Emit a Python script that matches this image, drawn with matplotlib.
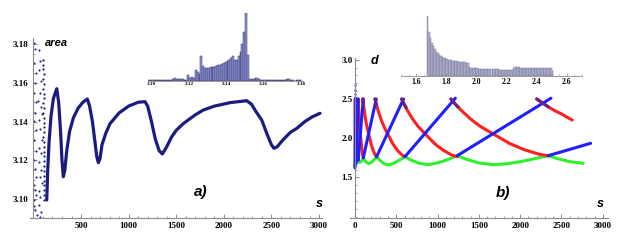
import numpy as np
import matplotlib
matplotlib.use("Agg")
import matplotlib.pyplot as plt
from matplotlib.ticker import MultipleLocator, FixedLocator

W, H = 631, 249

# ---------------- panel a) data ----------------
area_s = [140, 150, 165, 185, 210, 245, 265, 285, 300, 314, 330, 350, 380, 420, 470, 520,
          566, 590, 620, 645, 665, 682, 700, 720, 760, 805, 900, 1000, 1100, 1172, 1200,
          1240, 1280, 1320, 1354, 1400, 1450, 1500, 1575, 1700, 1785, 1900, 2065, 2240,
          2290, 2340, 2398, 2450, 2500, 2527, 2560, 2620, 2700, 2766, 2850, 2930, 3010]
area_v = [3.0995, 3.115, 3.130, 3.143, 3.152, 3.157, 3.150, 3.135, 3.120, 3.1115, 3.115,
          3.125, 3.135, 3.142, 3.147, 3.150, 3.1517, 3.148, 3.140, 3.130, 3.122, 3.1188,
          3.121, 3.128, 3.134, 3.139, 3.1445, 3.148, 3.150, 3.1503, 3.148, 3.140, 3.131,
          3.125, 3.1233, 3.127, 3.132, 3.1355, 3.139, 3.1435, 3.146, 3.148, 3.1498, 3.1508,
          3.149, 3.145, 3.1408, 3.134, 3.128, 3.1262, 3.127, 3.1305, 3.1345, 3.1365, 3.140,
          3.1425, 3.1443]

early_s = [4, 20, 8, 28, 12, 3, 24, 16, 6, 30, 10, 22, 2, 18, 26, 5, 14, 32, 1, 9, 20, 35,
           60, 72, 55, 82, 65, 52, 78, 88, 58, 70, 85, 62, 75, 54, 80, 67, 86, 57, 73, 63, 83, 70]
early_v = [3.1806, 3.1775, 3.1703, 3.165, 3.160, 3.155, 3.150, 3.1445, 3.1405, 3.1357,
           3.1305, 3.125, 3.1202, 3.1155, 3.1114, 3.1075, 3.1047, 3.102, 3.0995, 3.0965,
           3.0943, 3.092,
           3.177, 3.1715, 3.1667, 3.161, 3.1548, 3.1505, 3.1475, 3.144, 3.1408, 3.136,
           3.1305, 3.1265, 3.1238, 3.119, 3.115, 3.1115, 3.1083, 3.104, 3.101, 3.097,
           3.0933, 3.0905]
dense_s = [110, 109, 108, 110, 107, 109, 106, 108, 110, 107, 109, 106, 108, 105, 107, 109,
           106, 108, 105, 107, 104, 106, 108, 105, 107, 104, 106, 105, 103, 105]
dense_v = [3.0995, 3.102, 3.1045, 3.107, 3.1095, 3.112, 3.1145, 3.117, 3.1195, 3.122,
           3.1245, 3.127, 3.1295, 3.132, 3.1345, 3.137, 3.1395, 3.142, 3.1445, 3.147,
           3.1495, 3.152, 3.1545, 3.157, 3.1595, 3.162, 3.1645, 3.167, 3.1695, 3.172]

# histogram of area (inset a)
hist_a_start = 3.098
hist_a_width = 0.001
hist_a_counts = [1, 1, 2, 1, 1, 1, 1, 1, 1, 1, 1, 1, 2, 4, 6, 5, 3, 3, 3, 2, 2, 17, 8, 10, 8,
                 30, 24, 18, 72, 42, 38, 36, 38, 39, 40, 41, 43, 45, 47, 50, 52, 55, 58, 62,
                 66, 72, 62, 61, 72, 85, 110, 145, 200, 75, 5, 4, 4, 6, 7, 3, 2, 2, 2, 2, 2,
                 2, 2, 2, 2, 2, 2, 2, 2, 2, 3, 3, 1, 1, 0, 1, 1, 1]
hist_a_ticks = [3.10, 3.12, 3.14, 3.16, 3.18]

# ---------------- panel b) data ----------------
blue_segments = [
    ([0, 6], [1.62, 2.5]),
    ([6, 15], [1.66, 2.5]),
    ([15, 40], [1.70, 2.5]),
    ([40, 100], [1.72, 2.5]),
    ([101, 258], [1.75, 2.5]),
    ([262, 588], [1.764, 2.5]),
    ([605, 1215], [1.764, 2.51]),
    ([1238, 2372], [1.777, 2.51]),
    ([2340, 2853], [1.777, 1.935]),
]
red_segments = [
    ([2, 4, 6, 9], [2.5, 2.1, 1.8, 1.66]),
    ([6, 8, 10, 12, 15], [2.5, 2.25, 2.0, 1.85, 1.70]),
    ([15, 18, 22, 27, 33, 40], [2.5, 2.3, 2.1, 1.93, 1.80, 1.72]),
    ([38, 44, 51, 57, 66, 76, 85, 93, 101], [2.5, 2.36, 2.246, 2.15, 2.04, 1.935, 1.85, 1.79, 1.75]),
    ([95, 103, 112, 128, 145, 170, 195, 220, 245, 262],
     [2.5, 2.426, 2.360, 2.242, 2.147, 2.036, 1.926, 1.845, 1.786, 1.764]),
    ([242, 260, 278, 315, 351, 405, 460, 514, 569, 605],
     [2.5, 2.426, 2.360, 2.242, 2.147, 2.036, 1.926, 1.845, 1.786, 1.764]),
    ([565, 599, 632, 700, 767, 868, 969, 1070, 1171, 1238],
     [2.5, 2.426, 2.360, 2.242, 2.147, 2.036, 1.926, 1.845, 1.786, 1.764]),
    ([1162, 1221, 1280, 1398, 1515, 1692, 1869, 2046, 2222, 2340],
     [2.5, 2.427, 2.362, 2.246, 2.152, 2.043, 1.934, 1.855, 1.797, 1.775]),
    ([2200, 2270, 2340, 2420, 2500, 2570, 2631],
     [2.5, 2.45, 2.40, 2.35, 2.31, 2.265, 2.232]),
]
purple_segments = [
    ([95, 103], [2.5, 2.43]),
    ([242, 260], [2.5, 2.426]),
    ([565, 599, 620], [2.5, 2.426, 2.39]),
    ([1162, 1221, 1250], [2.5, 2.427, 2.395]),
    ([2200, 2270, 2340], [2.5, 2.45, 2.40]),
]
green_s = [0, 10, 20, 30, 40, 55, 75, 101, 130, 170, 210, 262, 300, 350, 403, 460, 530, 605,
           680, 780, 888, 1000, 1120, 1238, 1350, 1500, 1675, 1850, 2050, 2200, 2340, 2450,
           2600, 2764]
green_d = [1.64, 1.70, 1.68, 1.70, 1.72, 1.69, 1.70, 1.745, 1.70, 1.675, 1.70, 1.764, 1.72,
           1.675, 1.658, 1.675, 1.715, 1.764, 1.72, 1.68, 1.662, 1.685, 1.725, 1.777, 1.73,
           1.685, 1.662, 1.675, 1.71, 1.745, 1.777, 1.74, 1.70, 1.68]
purple_dots_s = [2, 3, 2, 3, 2, 3, 2, 3, 2, 3, 2, 3, 2]
purple_dots_d = [2.50, 2.45, 2.40, 2.35, 2.30, 2.25, 2.20, 2.15, 2.10, 2.05, 2.00, 1.95, 1.90]
blue_dots_s = [2, 3, 2, 3, 2]
blue_dots_d = [2.68, 2.62, 2.57, 2.53, 2.30]

hist_d_start = 1.67
hist_d_width = 0.01
hist_d_counts = [180, 133, 113, 100, 90, 80, 73, 68, 63, 60, 57, 55, 53, 51, 49, 48, 47, 46,
                 45, 44, 44, 43, 43, 42, 42, 41, 40, 38, 27, 25, 24, 24, 23, 23, 22, 22, 22,
                 22, 22, 22, 21, 21, 21, 20, 20, 20, 20, 20, 19, 19, 19, 19, 19, 19, 19, 19,
                 19, 25, 26, 26, 26, 26, 25, 25, 25, 25, 25, 25, 25, 24, 24, 24, 24, 24, 24,
                 24, 24, 24, 23, 23, 23, 23, 23, 14]
hist_d_ticks = [1.6, 1.8, 2.0, 2.2, 2.4, 2.6]

# ---------------- styling helpers ----------------
AX_COL = "#8c8c8c"
TICK_FONT = dict(family="Liberation Serif", weight="bold")
LAB_FONT = dict(family="Liberation Sans", weight="bold", style="italic")


def rect(l, t, r, b):
    return [l / W, 1 - b / H, (r - l) / W, (b - t) / H]


def style_main(ax, ymaj, ymin, xmaj=500, xmin=100, ypad=3, xpad=3):
    for side in ("top", "right"):
        ax.spines[side].set_visible(False)
    ax.spines["left"].set_position(("data", 0))
    for side in ("left", "bottom"):
        ax.spines[side].set_color(AX_COL)
        ax.spines[side].set_linewidth(0.8)
    ax.xaxis.set_major_locator(MultipleLocator(xmaj))
    ax.xaxis.set_minor_locator(MultipleLocator(xmin))
    ax.yaxis.set_major_locator(FixedLocator(ymaj))
    ax.yaxis.set_minor_locator(MultipleLocator(ymin))
    ax.tick_params(which="major", direction="in", length=3.2, width=0.7, color=AX_COL,
                   labelsize=6.5)
    ax.tick_params(which="minor", direction="in", length=1.6, width=0.6, color=AX_COL)
    ax.tick_params(axis="y", pad=ypad)
    ax.tick_params(axis="x", pad=xpad)
    for lab in ax.get_xticklabels() + ax.get_yticklabels():
        lab.set_fontfamily("Liberation Serif")
        lab.set_fontweight("bold")
    ax.set_facecolor("none")


fig = plt.figure(figsize=(W / 100, H / 100), dpi=100)

# ---------------- panel a ----------------
ax1 = fig.add_axes(rect(30, 38, 322, 218))
ax1.set_xlim(-36, 3031)
ax1.set_ylim(3.0902, 3.1832)
navy = "#1b1b80"
ax1.plot(early_s, early_v, "o", ms=1.5, color=navy, mec="none")
ax1.plot(dense_s, dense_v, "o", ms=1.6, color=navy, mec="none")
ax1.plot(area_s, area_v, "-", lw=2.3, color=navy, solid_joinstyle="round",
         solid_capstyle="round")
style_main(ax1, [3.10, 3.12, 3.14, 3.16, 3.18], 0.005, ypad=3.5, xpad=3)
ax1.set_xticks([500, 1000, 1500, 2000, 2500, 3000])
ax1.set_yticklabels(["3.10", "3.12", "3.14", "3.16", "3.18"])
for lab in ax1.get_xticklabels() + ax1.get_yticklabels():
    lab.set_fontfamily("Liberation Serif")
    lab.set_fontweight("bold")

# inset a
axa = fig.add_axes(rect(148, 13.3, 303, 80.5))
edges_a = [round(hist_a_start + i * hist_a_width, 3) for i in range(len(hist_a_counts))]
axa.bar(edges_a, hist_a_counts, width=hist_a_width, align="edge", color="#939ae0",
        edgecolor="#2c2c55", linewidth=0.35)
axa.set_xlim(3.0979, 3.181)
axa.set_ylim(0, 200)
for side in ("top", "right", "left"):
    axa.spines[side].set_visible(False)
axa.spines["bottom"].set_color(AX_COL)
axa.spines["bottom"].set_linewidth(0.6)
axa.set_yticks([])
axa.set_xticks(hist_a_ticks)
axa.set_xticklabels(["3.10", "3.12", "3.14", "3.16", "3.18"])
axa.xaxis.set_minor_locator(MultipleLocator(0.005))
axa.tick_params(which="major", direction="in", length=1.8, width=0.5, color=AX_COL,
                labelsize=3.8, pad=1.0)
axa.tick_params(which="minor", direction="in", length=1.0, width=0.4, color=AX_COL)
for lab in axa.get_xticklabels():
    lab.set_fontfamily("Liberation Serif")
    lab.set_fontweight("bold")
axa.set_facecolor("none")

# ---------------- panel b ----------------
ax2 = fig.add_axes(rect(350, 58, 608, 218.3))
ax2.set_xlim(-60, 3063)
ax2.set_ylim(0.978, 3.023)
BLUE, RED, GREEN, PURPLE = "#1f1fff", "#ff1f1f", "#2ef02e", "#6b2288"
lw = 2.2
ax2.plot(green_s, green_d, "-", lw=lw, color=GREEN, solid_capstyle="round",
         solid_joinstyle="round")
for s, d in red_segments:
    ax2.plot(s, d, "-", lw=lw, color=RED, solid_capstyle="round", solid_joinstyle="round")
for s, d in blue_segments:
    ax2.plot(s, d, "-", lw=lw, color=BLUE, solid_capstyle="round")
for s, d in purple_segments:
    ax2.plot(s, d, "-", lw=lw, color=PURPLE, solid_capstyle="round", solid_joinstyle="round")
ax2.plot(purple_dots_s, purple_dots_d, "o", ms=1.8, color=PURPLE, mec="none")
ax2.plot(blue_dots_s, blue_dots_d, "o", ms=1.6, color=BLUE, mec="none")
style_main(ax2, [1.5, 2.0, 2.5, 3.0], 0.1, ypad=1.5, xpad=2.5)
ax2.set_xticks([0, 500, 1000, 1500, 2000, 2500, 3000])
ax2.set_yticklabels(["1.5", "2.0", "2.5", "3.0"])
for lab in ax2.get_xticklabels() + ax2.get_yticklabels():
    lab.set_fontfamily("Liberation Serif")
    lab.set_fontweight("bold")

# inset b
axb = fig.add_axes(rect(401, 16, 582, 76))
edges_d = [round(hist_d_start + i * hist_d_width, 2) for i in range(len(hist_d_counts))]
axb.bar(edges_d, hist_d_counts, width=hist_d_width, align="edge", color="#b7b9d9",
        edgecolor="#70708f", linewidth=0.3)
axb.set_xlim(1.5, 2.7)
axb.set_ylim(0, 180)
for side in ("top", "right", "left"):
    axb.spines[side].set_visible(False)
axb.spines["bottom"].set_color(AX_COL)
axb.spines["bottom"].set_linewidth(0.6)
axb.set_yticks([])
axb.set_xticks(hist_d_ticks)
axb.set_xticklabels(["1.6", "1.8", "2.0", "2.2", "2.4", "2.6"])
axb.xaxis.set_minor_locator(MultipleLocator(0.05))
axb.tick_params(which="major", direction="in", length=2.2, width=0.5, color=AX_COL,
                labelsize=5.5, pad=1.5)
axb.tick_params(which="minor", direction="in", length=1.2, width=0.4, color=AX_COL)
for lab in axb.get_xticklabels():
    lab.set_fontfamily("Liberation Serif")
    lab.set_fontweight("bold")
axb.set_facecolor("none")

# ---------------- labels ----------------
def ftext(x, y, s, size, ha="left"):
    fig.text(x / W, 1 - y / H, s, fontsize=size, ha=ha, va="center", **LAB_FONT)

ftext(45, 43, "area", 8)
ftext(194, 192, "a)", 11)
ftext(316, 204, "s", 9)
ftext(371, 61, "d", 9)
ftext(496, 193, "b)", 11)
ftext(597, 204, "s", 9)

fig.savefig("out.png", dpi=100)
